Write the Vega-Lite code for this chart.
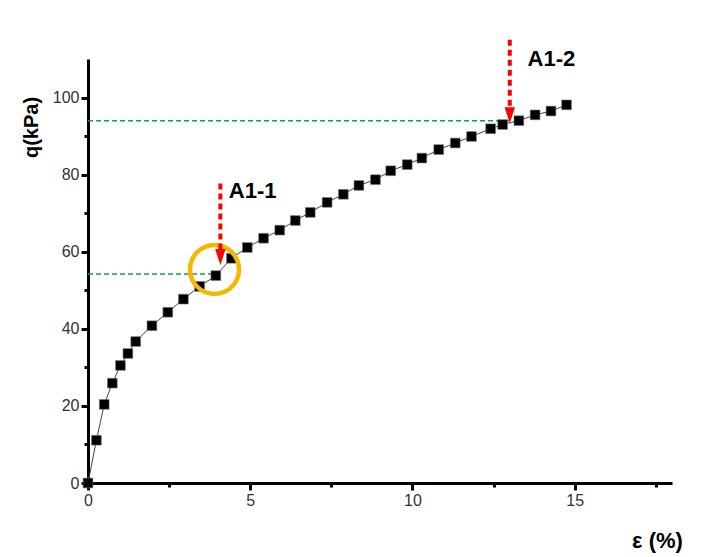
{
  "$schema": "https://vega.github.io/schema/vega-lite/v6.json",
  "width": 584,
  "height": 424,
  "autosize": {"type": "none"},
  "padding": {"left": 88, "top": 59, "right": 44, "bottom": 74},
  "background": "white",
  "config": {
    "view": {"stroke": null},
    "font": "Liberation Sans"
  },
  "datasets": {
    "curve": [
      {"eps": 0.0, "q": 0.0},
      {"eps": 0.26, "q": 11.1},
      {"eps": 0.5, "q": 20.4},
      {"eps": 0.75, "q": 25.9},
      {"eps": 1.0, "q": 30.5},
      {"eps": 1.23, "q": 33.6},
      {"eps": 1.47, "q": 36.7},
      {"eps": 1.97, "q": 40.8},
      {"eps": 2.46, "q": 44.3},
      {"eps": 2.94, "q": 47.7},
      {"eps": 3.44, "q": 51.0},
      {"eps": 3.94, "q": 53.8},
      {"eps": 4.42, "q": 58.3},
      {"eps": 4.91, "q": 61.1},
      {"eps": 5.41, "q": 63.5},
      {"eps": 5.91, "q": 65.6},
      {"eps": 6.39, "q": 68.1},
      {"eps": 6.85, "q": 70.2},
      {"eps": 7.37, "q": 72.8},
      {"eps": 7.87, "q": 74.9},
      {"eps": 8.35, "q": 77.2},
      {"eps": 8.86, "q": 78.7},
      {"eps": 9.33, "q": 81.0},
      {"eps": 9.84, "q": 82.6},
      {"eps": 10.29, "q": 84.3},
      {"eps": 10.81, "q": 86.5},
      {"eps": 11.32, "q": 88.2},
      {"eps": 11.82, "q": 89.9},
      {"eps": 12.41, "q": 91.9},
      {"eps": 12.78, "q": 93.0},
      {"eps": 13.28, "q": 94.0},
      {"eps": 13.78, "q": 95.5},
      {"eps": 14.27, "q": 96.5},
      {"eps": 14.75, "q": 98.1}
    ],
    "guides": [
      {"x1": 0, "x2": 4.0, "q": 54.2},
      {"x1": 0, "x2": 13.05, "q": 94.0}
    ],
    "arrows": [
      {"x": 4.08, "top": 77.7, "bottom": 60.5, "head": 58.6},
      {"x": 13.0, "top": 115.0, "bottom": 97.5, "head": 95.4}
    ],
    "labels": [
      {"x": 4.34, "q": 75.8, "text": "A1-1"},
      {"x": 13.55, "q": 109.9, "text": "A1-2"}
    ],
    "circle": [
      {"x": 3.9, "q": 55.4}
    ]
  },
  "resolve": {"axis": {"x": "independent", "y": "independent"}},
  "layer": [
    {
      "data": {"name": "guides"},
      "mark": {"type": "rule", "color": "#00a84f", "strokeWidth": 1.5, "strokeDash": [5, 3]},
      "encoding": {
        "x": {"field": "x1", "type": "quantitative", "scale": {"domain": [0, 18], "nice": false}, "axis": null},
        "x2": {"field": "x2"},
        "y": {"field": "q", "type": "quantitative", "scale": {"domain": [0, 110], "nice": false}, "axis": null}
      }
    },
    {
      "data": {"name": "curve"},
      "mark": {"type": "line", "color": "#444444", "strokeWidth": 1},
      "encoding": {
        "x": {
          "field": "eps", "type": "quantitative",
          "axis": {
            "orient": "bottom",
            "values": [0, 5, 10, 15],
            "grid": false, "labelFlush": false,
            "domainColor": "black", "domainWidth": 3,
            "tickColor": "black", "tickWidth": 3, "tickSize": 7,
            "labelFontSize": 16, "labelColor": "#333333", "labelPadding": 2,
            "labelFont": "Liberation Sans",
            "title": "ε (%)",
            "titleFont": "Liberation Sans",
            "titleFontSize": 22, "titleFontWeight": "bold", "titleColor": "black",
            "titleX": 569, "titleY": 57, "titleBaseline": "middle", "titleAlign": "center"
          }
        },
        "y": {
          "field": "q", "type": "quantitative",
          "axis": {
            "orient": "left",
            "values": [0, 20, 40, 60, 80, 100],
            "grid": false, "labelFlush": false,
            "domainColor": "black", "domainWidth": 3,
            "tickColor": "black", "tickWidth": 3, "tickSize": 7,
            "labelFontSize": 16, "labelColor": "#333333", "labelPadding": 2,
            "labelFont": "Liberation Sans",
            "title": "q(kPa)",
            "titleFont": "Liberation Sans",
            "titleFontSize": 20, "titleFontWeight": "bold", "titleColor": "black",
            "titleAngle": -90, "titleX": -57, "titleY": 68,
            "titleBaseline": "middle", "titleAlign": "center"
          }
        }
      }
    },
    {
      "data": {"name": "curve"},
      "mark": {"type": "point", "shape": "square", "filled": true, "size": 95, "fill": "black", "stroke": "#777777", "strokeWidth": 0.6, "opacity": 1},
      "encoding": {
        "x": {
          "field": "eps", "type": "quantitative",
          "axis": {
            "orient": "bottom",
            "values": [2.5, 7.5, 12.5, 17.5],
            "grid": false, "domain": false, "labels": false, "title": null,
            "tickColor": "black", "tickWidth": 3, "tickSize": 4
          }
        },
        "y": {
          "field": "q", "type": "quantitative",
          "axis": {
            "orient": "left",
            "values": [10, 30, 50, 70, 90],
            "grid": false, "domain": false, "labels": false, "title": null,
            "tickColor": "black", "tickWidth": 3, "tickSize": 4
          }
        }
      }
    },
    {
      "data": {"name": "circle"},
      "mark": {"type": "point", "shape": "circle", "filled": false, "size": 2400, "stroke": "#f5b800", "strokeWidth": 4.5, "opacity": 1},
      "encoding": {
        "x": {"field": "x", "type": "quantitative", "axis": null},
        "y": {"field": "q", "type": "quantitative", "axis": null}
      }
    },
    {
      "data": {"name": "arrows"},
      "mark": {"type": "rule", "color": "#ff0000", "strokeWidth": 4, "strokeDash": [6, 4]},
      "encoding": {
        "x": {"field": "x", "type": "quantitative", "axis": null},
        "y": {"field": "top", "type": "quantitative", "axis": null},
        "y2": {"field": "bottom"}
      }
    },
    {
      "data": {"name": "arrows"},
      "mark": {"type": "point", "shape": "M-0.65,-1L0.65,-1L0,1Z", "filled": true, "fill": "#ff0000", "size": 256, "strokeWidth": 0, "opacity": 1},
      "encoding": {
        "x": {"field": "x", "type": "quantitative", "axis": null},
        "y": {"field": "head", "type": "quantitative", "axis": null}
      }
    },
    {
      "data": {"name": "labels"},
      "mark": {"type": "text", "font": "Liberation Sans", "fontSize": 22, "fontWeight": "bold", "align": "left", "baseline": "middle", "color": "black"},
      "encoding": {
        "x": {"field": "x", "type": "quantitative", "axis": null},
        "y": {"field": "q", "type": "quantitative", "axis": null},
        "text": {"field": "text"}
      }
    }
  ]
}
